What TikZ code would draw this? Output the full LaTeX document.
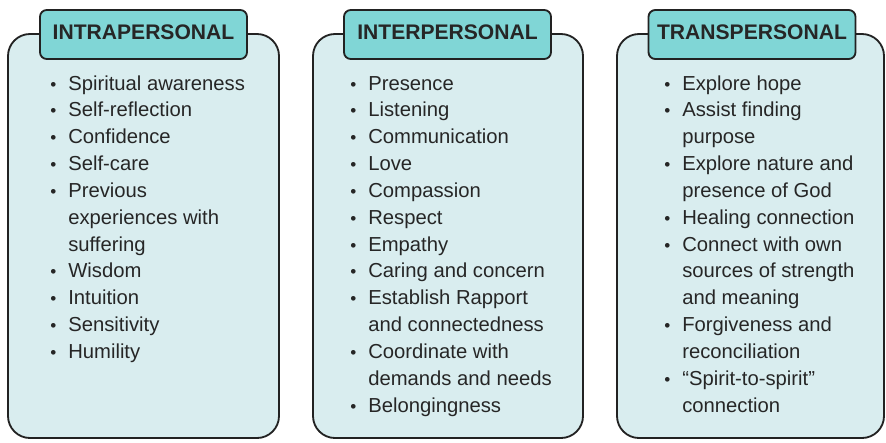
\documentclass[tikz,border=0pt]{standalone}
\usepackage{fontspec}
\setmainfont{Liberation Sans}

\definecolor{panelfill}{RGB}{217,237,239}
\definecolor{tabfill}{RGB}{128,214,214}
\definecolor{edge}{RGB}{34,34,34}
\definecolor{ink}{RGB}{38,38,38}

\newcommand{\bl}{\makebox[0.5cm][l]{\makebox[0.25cm]{\scalebox{0.85}{\textbullet}}}}

\tikzset{
  panel/.style={draw=edge, fill=panelfill, line width=1.3pt, rounded corners=0.55cm},
  tabbox/.style={draw=edge, fill=tabfill, line width=1.3pt, rounded corners=0.17cm,
    minimum width=5.175cm, minimum height=1.225cm, text depth=0.1cm, text=ink,
    font=\fontsize{15pt}{18pt}\selectfont\bfseries},
  itemlist/.style={anchor=base west, inner sep=0pt, text=ink,
    font=\fontsize{14.4pt}{19.1pt}\selectfont}
}

\begin{document}
\begin{tikzpicture}
\useasboundingbox (0, 0) rectangle (22.15, -11.05);

\draw [panel] (0.2, -0.85) rectangle (6.975, -10.95);
\node [tabbox] (intratab) at (3.5875, -0.8625) {INTRAPERSONAL};
\node [itemlist] (intralist) at (1.2, -2.25) {\begin{tabular}[t]{@{}l@{}l@{}}
\bl & Spiritual awareness \\
\bl & Self-reflection \\
\bl & Confidence \\
\bl & Self-care \\
\bl & Previous \\
    & experiences with \\
    & suffering \\
\bl & Wisdom \\
\bl & Intuition \\
\bl & Sensitivity \\
\bl & Humility
\end{tabular}};

\draw [panel] (7.825, -0.85) rectangle (14.575, -10.95);
\node [tabbox] (intertab) at (11.1875, -0.8625) {INTERPERSONAL};
\node [itemlist] (interlist) at (8.7, -2.25) {\begin{tabular}[t]{@{}l@{}l@{}}
\bl & Presence \\
\bl & Listening \\
\bl & Communication \\
\bl & Love \\
\bl & Compassion \\
\bl & Respect \\
\bl & Empathy \\
\bl & Caring and concern \\
\bl & Establish Rapport \\
    & and connectedness \\
\bl & Coordinate with \\
    & demands and needs \\
\bl & Belongingness
\end{tabular}};

\draw [panel] (15.425, -0.85) rectangle (22.1, -10.95);
\node [tabbox] (transtab) at (18.8, -0.8625) {TRANSPERSONAL};
\node [itemlist] (translist) at (16.55, -2.25) {\begin{tabular}[t]{@{}l@{}l@{}}
\bl & Explore hope \\
\bl & Assist finding \\
    & purpose \\
\bl & Explore nature and \\
    & presence of God \\
\bl & Healing connection \\
\bl & Connect with own \\
    & sources of strength \\
    & and meaning \\
\bl & Forgiveness and \\
    & reconciliation \\
\bl & “Spirit-to-spirit” \\
    & connection
\end{tabular}};

\end{tikzpicture}
\end{document}
